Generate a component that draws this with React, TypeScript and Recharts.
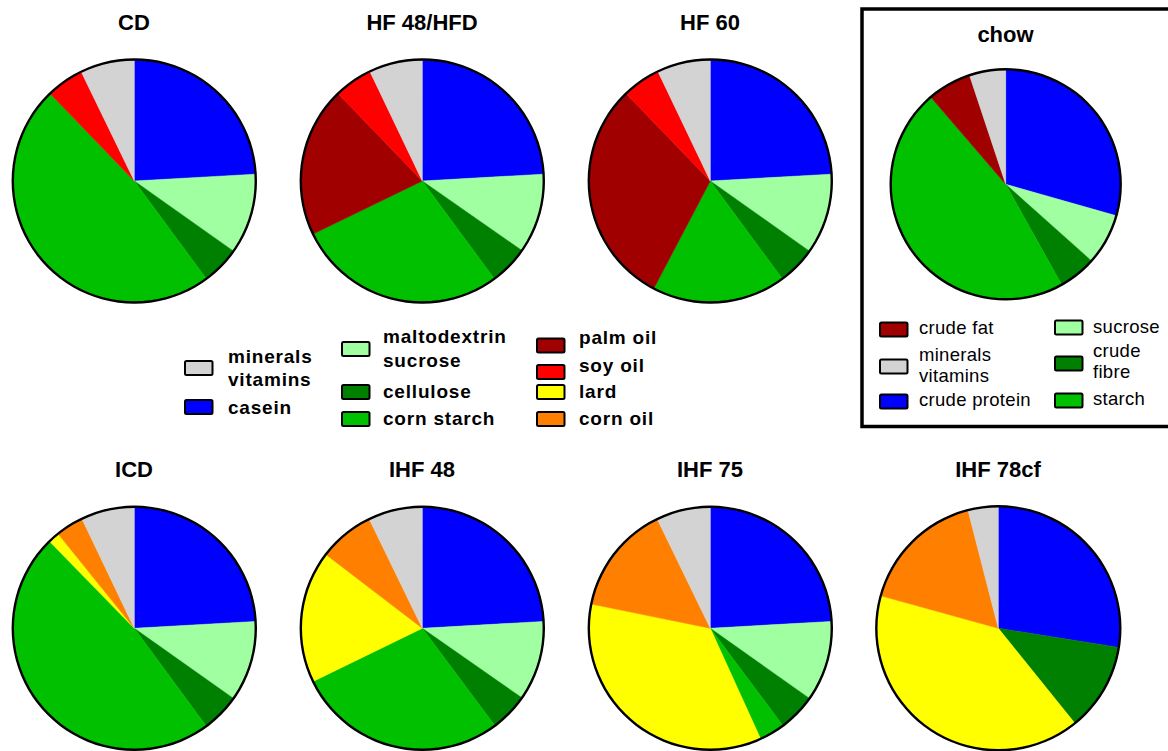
import { PieChart, Pie, Cell } from "recharts";

// ingredient order, clockwise from 12 o'clock
const ingredients = [
  "casein",
  "maltodextrin sucrose",
  "cellulose",
  "corn starch",
  "palm oil",
  "lard",
  "soy oil",
  "corn oil",
  "minerals vitamins",
];
const ingredientColors = [
  "#0000ff",
  "#a0ffa0",
  "#008000",
  "#00c000",
  "#a00000",
  "#ffff00",
  "#ff0000",
  "#ff8000",
  "#d3d3d3",
];

const dietNames = ["CD", "HF 48/HFD", "HF 60", "ICD", "IHF 48", "IHF 75", "IHF 78cf"];
const cdValues = [24.1, 10.7, 5.1, 47.9, 0, 0, 5.0, 0, 7.2];
const hf48Values = [24.1, 10.6, 5.2, 27.9, 20.0, 0, 5.1, 0, 7.1];
const hf60Values = [24.1, 10.7, 5.1, 17.8, 30.1, 0, 5.1, 0, 7.1];
const icdValues = [24.1, 10.7, 5.1, 47.8, 0, 1.5, 0, 3.7, 7.1];
const ihf48Values = [24.1, 10.6, 5.1, 28.0, 0, 17.6, 0, 7.4, 7.2];
const ihf75Values = [24.1, 10.7, 5.0, 3.4, 0, 35.0, 0, 14.6, 7.2];
const ihf78cfValues = [27.5, 0, 11.7, 0, 0, 40.1, 0, 16.7, 4.0];
const dietValues = [cdValues, hf48Values, hf60Values, icdValues, ihf48Values, ihf75Values, ihf78cfValues];

const chowName = "chow";
const chowLabels = ["crude protein", "sucrose", "crude fibre", "starch", "crude fat", "minerals vitamins"];
const chowColors = ["#0000ff", "#a0ffa0", "#008000", "#00c000", "#a00000", "#d3d3d3"];
const chowValues = [29.4, 7.2, 5.3, 46.8, 6.2, 5.1];

// legend columns (indexes into ingredients)
const legendColumns = [[8, 0], [1, 2, 3], [4, 6, 5, 7]];
const chowLegendColumns = [[4, 5, 0], [1, 2, 3]];

// layout
const W = 1168;
const H = 751;
const FONT = "'Liberation Sans', Arial, sans-serif";
const dietLayout = [
  { cx: 134.3, cy: 181, r: 121.5, tx: 134, ty: 30 },
  { cx: 422.3, cy: 181, r: 121.5, tx: 422, ty: 30 },
  { cx: 710.3, cy: 181, r: 121.5, tx: 710, ty: 30 },
  { cx: 134.3, cy: 628.3, r: 121.5, tx: 134, ty: 476.5 },
  { cx: 422.3, cy: 628.3, r: 121.5, tx: 422, ty: 476.5 },
  { cx: 710.3, cy: 628.3, r: 121.5, tx: 710, ty: 476.5 },
  { cx: 998.3, cy: 628.3, r: 122, tx: 998, ty: 476.5 },
];
const chowLayout = { cx: 1005.7, cy: 184.3, r: 115, tx: 1005.5, ty: 41.5 };

const legendX = [{ sx: 185, tx: 228 }, { sx: 342, tx: 383 }, { sx: 537, tx: 579 }];
const legendRows = [
  [{ sy: 361, ty: [363, 386] }, { sy: 400, ty: [414] }],
  [{ sy: 342, ty: [343, 367] }, { sy: 385, ty: [398] }, { sy: 412, ty: [425] }],
  [{ sy: 338.5, ty: [344] }, { sy: 365, ty: [371.5] }, { sy: 385, ty: [398] }, { sy: 412, ty: [425] }],
];
const chowLegendX = [{ sx: 880, tx: 919 }, { sx: 1055, tx: 1093 }];
const chowLegendRows = [
  [{ sy: 322.5, ty: [334] }, { sy: 359.5, ty: [361, 381.5] }, { sy: 394.5, ty: [406] }],
  [{ sy: 320.5, ty: [332.5] }, { sy: 356.5, ty: [356.5, 378] }, { sy: 393.5, ty: [405] }],
];

function splitLabel(label: string) {
  if (label === "minerals vitamins") return ["minerals", "vitamins"];
  if (label === "maltodextrin sucrose") return ["maltodextrin", "sucrose"];
  if (label === "crude fibre") return ["crude", "fibre"];
  return [label];
}

function sliceData(labels: string[], colors: string[], values: number[]) {
  return values
    .map((v, i) => ({ name: labels[i], value: v, color: colors[i] }))
    .filter((d) => d.value > 0);
}

function renderPie(
  key: string,
  data: { name: string; value: number; color: string }[],
  l: { cx: number; cy: number; r: number }
) {
  return [
    <Pie
      key={key}
      data={data}
      dataKey="value"
      nameKey="name"
      cx={l.cx}
      cy={l.cy}
      outerRadius={l.r}
      startAngle={90}
      endAngle={-270}
      isAnimationActive={false}
    >
      {data.map((d) => (
        <Cell key={d.name} fill={d.color} stroke={d.color} strokeWidth={0.5} />
      ))}
    </Pie>,
    <Pie
      key={key + "-ring"}
      data={[{ name: "ring", value: 1 }]}
      dataKey="value"
      cx={l.cx}
      cy={l.cy}
      innerRadius={l.r - 1.2}
      outerRadius={l.r + 1.2}
      startAngle={90}
      endAngle={-270}
      fill="#000"
      stroke="none"
      isAnimationActive={false}
    />,
  ];
}

function Swatch({ x, y, color }: { x: number; y: number; color: string }) {
  return <rect x={x} y={y} width={27.5} height={14} rx={1.5} fill={color} stroke="#000" strokeWidth={2} />;
}

export default function App() {
  return (
    <div style={{ position: "absolute", left: 0, top: 0, width: W, height: H, overflow: "hidden", background: "#fff" }}>
      <div style={{ position: "absolute", left: 0, top: 0 }}>
        <PieChart width={W} height={H} margin={{ top: 0, right: 0, bottom: 0, left: 0 }}>
          {dietNames.flatMap((n, i) => renderPie(n, sliceData(ingredients, ingredientColors, dietValues[i]), dietLayout[i]))}
          {renderPie(chowName, sliceData(chowLabels, chowColors, chowValues), chowLayout)}
        </PieChart>
      </div>
      <svg
        width={W}
        height={H}
        style={{ position: "absolute", left: 0, top: 0, pointerEvents: "none" }}
        fontFamily={FONT}
      >
        <rect x={862} y={9} width={330} height={417.5} fill="none" stroke="#000" strokeWidth={3.5} />
        {dietNames.map((n, i) => (
          <text key={n} x={dietLayout[i].tx} y={dietLayout[i].ty} textAnchor="middle" fontSize={22} fontWeight="bold">
            {n}
          </text>
        ))}
        <text x={chowLayout.tx} y={chowLayout.ty} textAnchor="middle" fontSize={22} fontWeight="bold">
          {chowName}
        </text>
        {legendColumns.map((col, c) =>
          col.map((idx, r) => {
            const row = legendRows[c][r];
            const lines = splitLabel(ingredients[idx]);
            return (
              <g key={ingredients[idx]}>
                <Swatch x={legendX[c].sx} y={row.sy} color={ingredientColors[idx]} />
                {lines.map((t, k) => (
                  <text key={t} x={legendX[c].tx} y={row.ty[k]} fontSize={19} fontWeight="bold" letterSpacing={0.8}>
                    {t}
                  </text>
                ))}
              </g>
            );
          })
        )}
        {chowLegendColumns.map((col, c) =>
          col.map((idx, r) => {
            const row = chowLegendRows[c][r];
            const lines = splitLabel(chowLabels[idx]);
            return (
              <g key={chowLabels[idx]}>
                <Swatch x={chowLegendX[c].sx} y={row.sy} color={chowColors[idx]} />
                {lines.map((t, k) => (
                  <text key={t} x={chowLegendX[c].tx} y={row.ty[k]} fontSize={18.5} letterSpacing={0.3}>
                    {t}
                  </text>
                ))}
              </g>
            );
          })
        )}
      </svg>
    </div>
  );
}
